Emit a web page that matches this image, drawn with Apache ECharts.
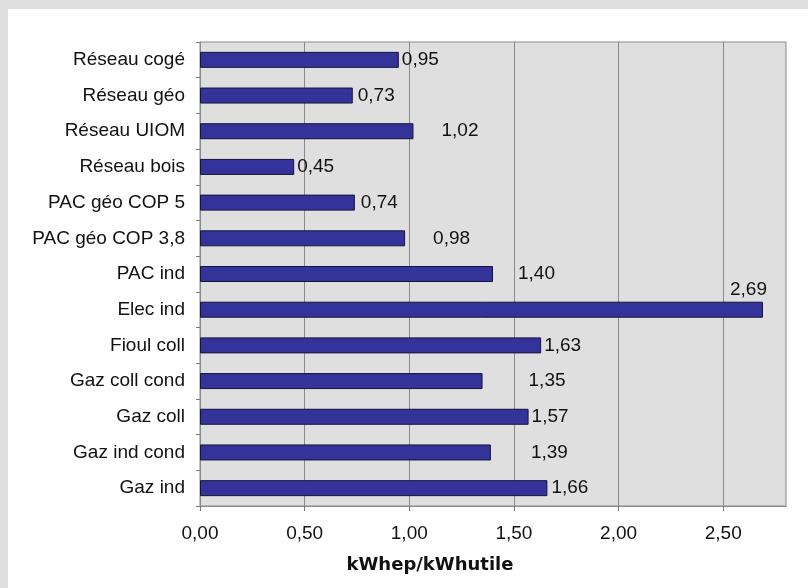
<!DOCTYPE html>
<html>
<head>
<meta charset="utf-8">
<script src="https://cdn.jsdelivr.net/npm/echarts@6/dist/echarts.min.js"></script>
<style>
html,body{margin:0;padding:0;background:#fff;}
#c{width:808px;height:588px;}
</style>
</head>
<body>
<div id="c"></div>
<script>
const categories = ["Réseau cogé","Réseau géo","Réseau UIOM","Réseau bois","PAC géo COP 5","PAC géo COP 3,8","PAC ind","Elec ind","Fioul coll","Gaz coll cond","Gaz coll","Gaz ind cond","Gaz ind"];
const values = [0.95,0.73,1.02,0.45,0.74,0.98,1.40,2.69,1.63,1.35,1.57,1.39,1.66];
const xTicks = [0,0.5,1,1.5,2,2.5];
const axisTitle = "kWhep/kWhutile";

// label gaps (style only) per bar, null = above bar end
const labelGap = [3,5,28,3,6,28,25,null,3,46,3,40,4];

const fmt = v => v.toFixed(2).replace('.', ',');
const chart = echarts.init(document.getElementById('c'), null, {renderer:'canvas'});
const txt = {fontFamily:'"Liberation Sans", Arial, sans-serif', fontSize:19, color:'#111'};

const data = values.map((v,i) => {
  const g = labelGap[i];
  const label = g === null
    ? {show:true, position:['100%',0], align:'right', verticalAlign:'middle', offset:[4,-12]}
    : {show:true, position:'right', distance:g};
  return {value:v, label};
});

chart.setOption({
  animation:false,
  graphic:[
    {type:'rect', shape:{x:0,y:0,width:808,height:9}, style:{fill:'#dfdfdf'}, silent:true},
    {type:'rect', shape:{x:0,y:0,width:8,height:588}, style:{fill:'#dfdfdf'}, silent:true},
    {type:'text', x:430, y:565, style:{text:axisTitle, font:'bold 18px "DejaVu Sans", Verdana, sans-serif', fill:'#111', textAlign:'center', textVerticalAlign:'middle'}}
  ],
  grid:{left:200, top:42, right:22, bottom:82, show:true, backgroundColor:'#dfdfdf', borderColor:'#8a8a8a', borderWidth:1},
  xAxis:{
    type:'value', min:0, max:2.8, interval:0.5,
    axisLine:{show:true, lineStyle:{color:'#8a8a8a'}},
    axisTick:{show:true, length:5, lineStyle:{color:'#777'}, customValues:xTicks},
    axisLabel:Object.assign({margin:18, formatter:v=>fmt(v), customValues:xTicks}, txt),
    splitLine:{show:true, lineStyle:{color:'#8a8a8a', width:1}}
  },
  yAxis:{
    type:'category', data:categories, inverse:true,
    axisLine:{show:true, lineStyle:{color:'#8a8a8a'}},
    axisTick:{show:true, length:4, alignWithLabel:false, lineStyle:{color:'#777'}},
    axisLabel:Object.assign({margin:15}, txt),
    splitLine:{show:false}
  },
  series:[{
    type:'bar', data:data, barWidth:16,
    itemStyle:{color:'#333399', borderColor:'#14143c', borderWidth:1},
    label:Object.assign({formatter:p=>fmt(p.value)}, txt)
  }]
});
</script>
</body>
</html>
